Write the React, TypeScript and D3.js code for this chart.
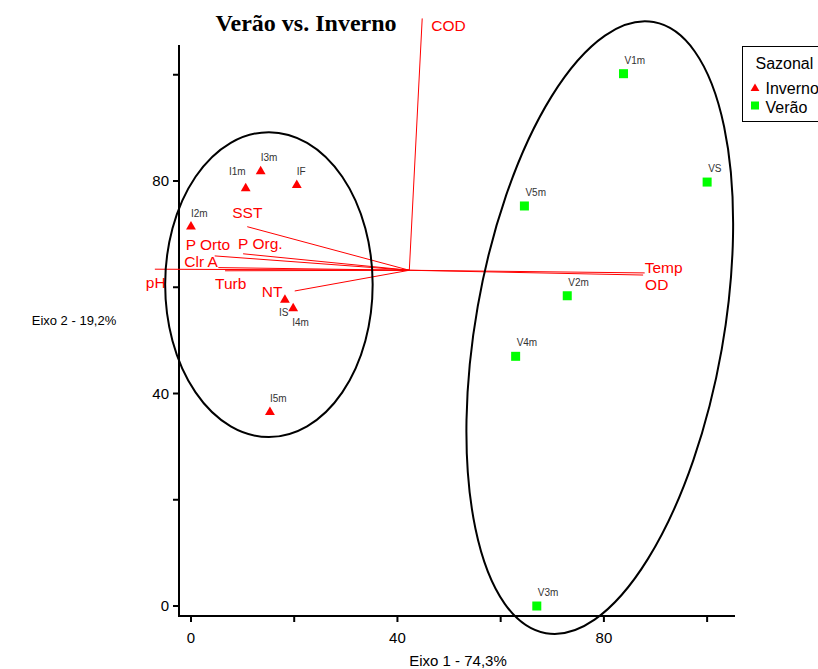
import React from 'react';
import * as d3 from 'd3';

const W = 818;
const H = 669;

// sample scores (Inverno)
const invernoNames = ['I1m', 'I2m', 'I3m', 'I4m', 'I5m', 'IS', 'IF'];
const invernoX = [10.6, 0.0, 13.5, 19.8, 15.3, 18.2, 20.5];
const invernoY = [78.6, 71.4, 81.8, 56.0, 36.5, 57.6, 79.2];

// sample scores (Verão)
const veraoNames = ['V1m', 'V2m', 'V3m', 'V4m', 'V5m', 'VS'];
const veraoX = [83.8, 72.9, 67.0, 62.9, 64.6, 100.0];
const veraoY = [100.2, 58.4, 0.0, 47.0, 75.3, 79.8];

// biplot vectors
const vectorOrigin = [42.3, 63.2];
const vectorNames = ['COD', 'SST', 'P Org.', 'P Orto', 'Clr A', 'Turb', 'pH', 'NT', 'Temp', 'OD'];
const vectorX = [44.8, 10.9, 10.1, 4.6, 5.3, 6.6, -7.0, 20.1, 87.9, 87.6];
const vectorY = [110.6, 71.4, 66.3, 65.9, 63.7, 63.1, 63.4, 59.3, 62.7, 62.3];

// group ellipses (data units)
const groupCx = [15.1, 79.2];
const groupCy = [60.5, 52.4];
const groupRx = [20.1, 24.0];
const groupRy = [28.7, 58.4];
const groupTilt = [0, 10];

const xTicks = [0, 20, 40, 60, 80, 100];
const yTicks = [0, 20, 40, 60, 80, 100];
const labelledTicks = [0, 40, 80];

const seasons = ['Inverno', 'Verão'];

// label nudges in px, so texts don't sit on top of the marks
const sampleNudge: Record<string, [number, number, string]> = {
  I1m: [0, -13, 'end'],
  IS: [-6, 16, 'start'],
  I4m: [-1, 17, 'start'],
};
const vectorNudge: Record<string, [number, number]> = {
  COD: [9, 13],
  SST: [-15, -9],
  'P Org.': [-5, -5],
  'P Orto': [-29, -6],
  'Clr A': [-34, -1],
  Turb: [-10, 18],
  pH: [-9, 19],
  NT: [-33, 6],
  Temp: [0, 0],
  OD: [2, 15],
};

const x = d3.scaleLinear().domain([-2.32, 105.4]).range([179, 735]);
const y = d3.scaleLinear().domain([-1.88, 105.6]).range([616, 45]);

const tri = d3.symbol().type(d3.symbolTriangle).size(42);

export default function App() {
  const [x0, x1] = x.range();
  const [y0, y1] = y.range();
  const font = 'Arial, "Liberation Sans", sans-serif';

  return (
    <svg width={W} height={H} style={{ position: 'absolute', left: 0, top: 0, background: '#fff' }}
      fontFamily={font}>
      <text x={306} y={31} textAnchor="middle" fontFamily='"Liberation Serif", "Times New Roman", serif'
        fontWeight="bold" fontSize={24}>Verão vs. Inverno</text>

      {/* axes */}
      <line x1={x0} x2={x1} y1={y0} y2={y0} stroke="#000" strokeWidth={2} />
      <line x1={x0} x2={x0} y1={y0 + 1} y2={y1} stroke="#000" strokeWidth={2} />
      {xTicks.map(t => (
        <g key={'xt' + t}>
          <line x1={x(t)} x2={x(t)} y1={y0} y2={y0 + 6} stroke="#000" strokeWidth={2} />
          {labelledTicks.includes(t) &&
            <text x={x(t)} y={y0 + 27} textAnchor="middle" fontSize={15}>{t}</text>}
        </g>
      ))}
      {yTicks.map(t => (
        <g key={'yt' + t}>
          <line x1={x0 - 6} x2={x0} y1={y(t)} y2={y(t)} stroke="#000" strokeWidth={2} />
          {labelledTicks.includes(t) &&
            <text x={x0 - 10} y={y(t) + 5} textAnchor="end" fontSize={15}>{t}</text>}
        </g>
      ))}
      <text x={458} y={666} textAnchor="middle" fontSize={15}>Eixo 1 - 74,3%</text>
      <text x={74} y={325} textAnchor="middle" fontSize={13}>Eixo 2 - 19,2%</text>

      {/* vectors */}
      {vectorNames.map((n, i) => {
        const ex = x(vectorX[i]);
        const ey = y(vectorY[i]);
        const [dx, dy] = vectorNudge[n];
        return (
          <g key={n}>
            <line x1={x(vectorOrigin[0])} y1={y(vectorOrigin[1])} x2={ex} y2={ey} stroke="#ff0000" strokeWidth={1} />
            <text x={ex + dx} y={ey + dy} fill="#ff0000" fontSize={15.5}>{n}</text>
          </g>
        );
      })}

      {/* group ellipses */}
      {groupCx.map((c, i) => {
        const cx = x(c);
        const cy = y(groupCy[i]);
        const rx = x(c + groupRx[i]) - cx;
        const ry = cy - y(groupCy[i] + groupRy[i]);
        return (
          <ellipse key={'el' + i} cx={cx} cy={cy} rx={rx} ry={ry} fill="none" stroke="#000" strokeWidth={2}
            transform={`rotate(${groupTilt[i]} ${cx} ${cy})`} />
        );
      })}

      {/* samples */}
      {invernoNames.map((n, i) => {
        const px = x(invernoX[i]);
        const py = y(invernoY[i]);
        const [dx, dy, anchor] = sampleNudge[n] || [0, -10, 'start'];
        return (
          <g key={n}>
            <path d={tri() || ''} transform={`translate(${px},${py})`} fill="#ff0000" />
            <text x={px + dx} y={py + dy} fontSize={10} fill="#333" textAnchor={anchor}>{n}</text>
          </g>
        );
      })}
      {veraoNames.map((n, i) => {
        const px = x(veraoX[i]);
        const py = y(veraoY[i]);
        return (
          <g key={n}>
            <rect x={px - 4.5} y={py - 4.5} width={9} height={9} fill="#00ff00" />
            <text x={px + 1} y={py - 10} fontSize={10} fill="#333">{n}</text>
          </g>
        );
      })}

      {/* legend */}
      <g transform="translate(742.5,46.5)">
        <rect width={100} height={75} fill="#fff" stroke="#000" strokeWidth={1} />
        <text x={13} y={22} fontSize={16}>Sazonal</text>
        {seasons.map((s, i) => (
          <g key={s} transform={`translate(0,${i * 19})`}>
            {i === 0
              ? <path d={d3.symbol().type(d3.symbolTriangle).size(34)() || ''} transform="translate(12.5,42)" fill="#ff0000" />
              : <rect x={8.5} y={36} width={8} height={8} fill="#00ff00" />}
            <text x={23} y={47} fontSize={16}>{s}</text>
          </g>
        ))}
      </g>
    </svg>
  );
}
